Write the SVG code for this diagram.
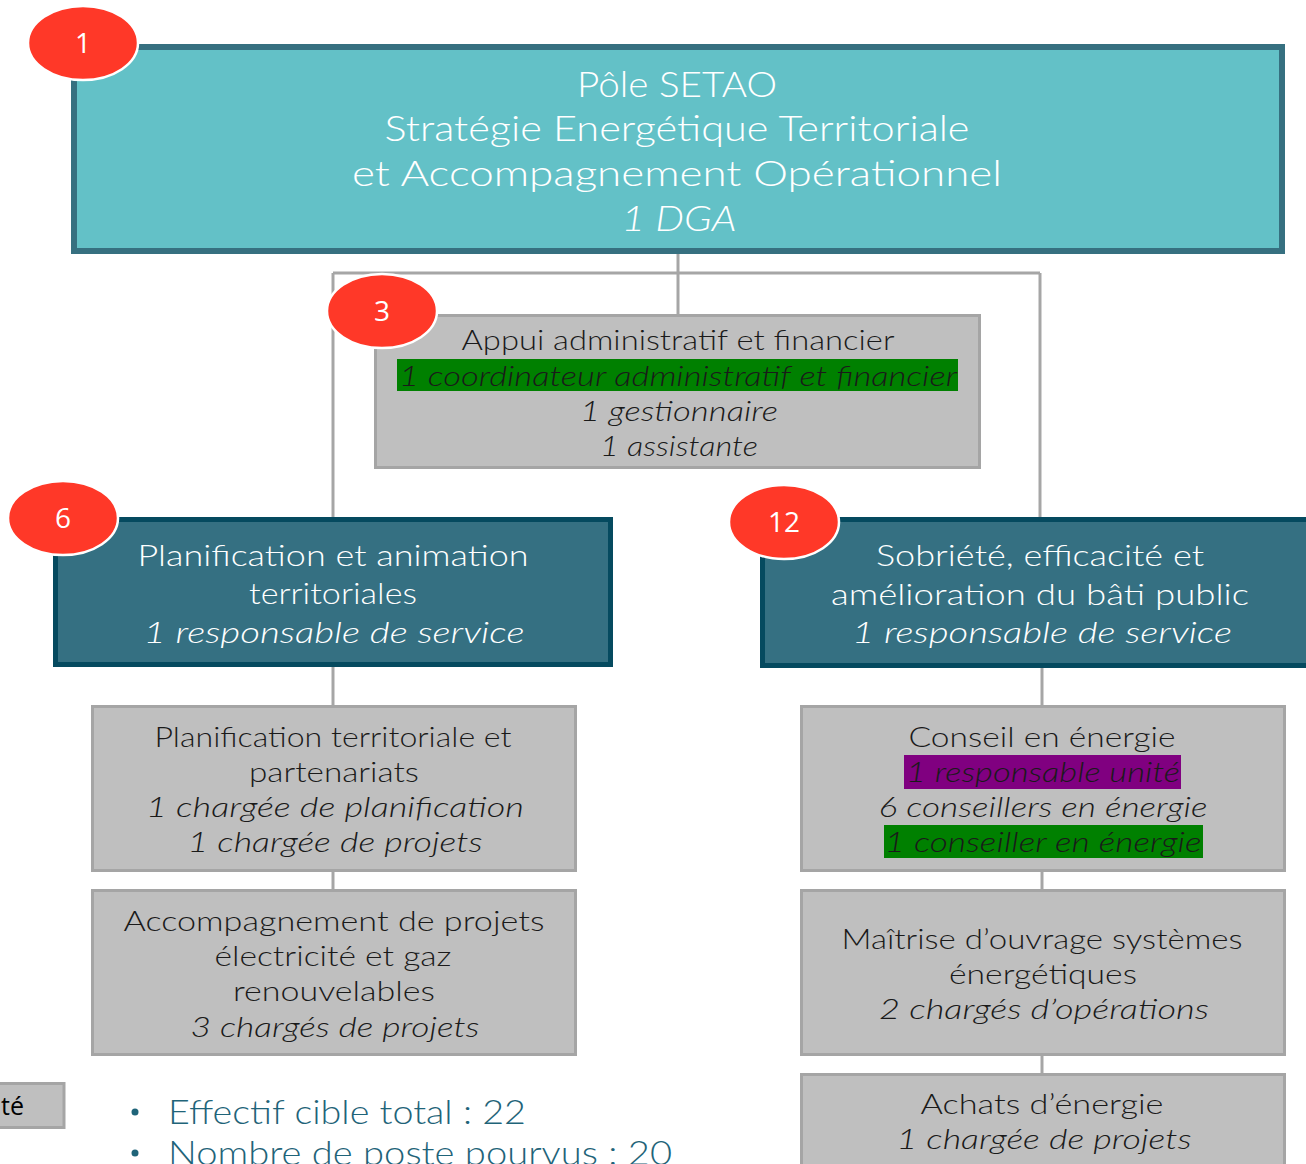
<svg xmlns="http://www.w3.org/2000/svg" width="1306" height="1164" viewBox="0 0 1306 1164">
  <style>
    .t { font-family: Lato, "Open Sans", "Liberation Sans", sans-serif; font-weight: 300; text-anchor: middle; }
    .i { font-style: italic; }
    .light { fill: #ffffff; }
    .dark { fill: #1a1a1a; }
    .pole { fill: #63c1c7; stroke: #367080; stroke-width: 6; }
    .svc { fill: #357082; stroke: #054a5f; stroke-width: 5; }
    .unit { fill: #bfbfbf; stroke: #a5a5a5; stroke-width: 3; }
    .badge { fill: #ff3828; stroke: #ffffff; stroke-width: 2.5; }
    .num { font-family: "Open Sans", "Noto Sans", "Liberation Sans", sans-serif; font-size: 28px; fill: #ffffff; text-anchor: middle; }
    .link { stroke: #a6a6a6; stroke-width: 3; fill: none; }
    .bullet { font-family: Lato, "Open Sans", "Liberation Sans", sans-serif; font-weight: 300; font-size: 34px; fill: #1f6479; }
  </style>

  <rect width="1306" height="1164" fill="#ffffff"/>

  <!-- connectors -->
  <g id="connectors">
    <path class="link" d="M678 254 V315"/>
    <path class="link" d="M333 273 H1040"/>
    <path class="link" d="M333 273 V519"/>
    <path class="link" d="M1040 273 V519"/>
    <path class="link" d="M333 667 V706"/>
    <path class="link" d="M333 872 V890"/>
    <path class="link" d="M1042 668 V706"/>
    <path class="link" d="M1042 872 V890"/>
    <path class="link" d="M1042 1056 V1074"/>
  </g>

  <!-- pole -->
  <g id="pole-setao">
    <rect class="pole" x="74" y="47" width="1208" height="204"/>
    <text class="t light" font-size="36" x="677" y="97" textLength="200" lengthAdjust="spacingAndGlyphs">Pôle SETAO</text>
    <text class="t light" font-size="36" x="677" y="141" textLength="585" lengthAdjust="spacingAndGlyphs">Stratégie Energétique Territoriale</text>
    <text class="t light" font-size="36" x="677" y="186" textLength="650" lengthAdjust="spacingAndGlyphs">et Accompagnement Opérationnel</text>
    <text class="t light i" font-size="36" x="679" y="231" textLength="115" lengthAdjust="spacingAndGlyphs">1 DGA</text>
  </g>

  <!-- administrative support -->
  <g id="appui-administratif">
    <rect class="unit" x="375.5" y="315.5" width="604" height="152"/>
    <rect x="397" y="359" width="561" height="32" fill="#008000"/>
    <text class="t dark" font-size="28" x="678" y="350" textLength="433" lengthAdjust="spacingAndGlyphs">Appui administratif et financier</text>
    <text class="t dark i" font-size="28" x="678" y="386" textLength="558" lengthAdjust="spacingAndGlyphs">1 coordinateur administratif et financier</text>
    <text class="t dark i" font-size="28" x="679" y="421" textLength="198" lengthAdjust="spacingAndGlyphs">1 gestionnaire</text>
    <text class="t dark i" font-size="28" x="679" y="456" textLength="158" lengthAdjust="spacingAndGlyphs">1 assistante</text>
  </g>

  <!-- planning service -->
  <g id="service-planification">
    <rect class="svc" x="55.5" y="519.5" width="555" height="145"/>
    <text class="t light" font-size="30" x="333" y="566" textLength="391" lengthAdjust="spacingAndGlyphs">Planification et animation</text>
    <text class="t light" font-size="30" x="333" y="604" textLength="168" lengthAdjust="spacingAndGlyphs">territoriales</text>
    <text class="t light i" font-size="30" x="334" y="643" textLength="381" lengthAdjust="spacingAndGlyphs">1 responsable de service</text>
  </g>

  <!-- sobriety service -->
  <g id="service-sobriete">
    <rect class="svc" x="762.5" y="519.5" width="560" height="146"/>
    <text class="t light" font-size="30" x="1040" y="566" textLength="328" lengthAdjust="spacingAndGlyphs">Sobriété, efficacité et</text>
    <text class="t light" font-size="30" x="1040" y="605" textLength="418" lengthAdjust="spacingAndGlyphs">amélioration du bâti public</text>
    <text class="t light i" font-size="30" x="1042" y="643" textLength="380" lengthAdjust="spacingAndGlyphs">1 responsable de service</text>
  </g>

  <!-- planning units -->
  <g id="unite-planification">
    <rect class="unit" x="92.5" y="706.5" width="483" height="164"/>
    <text class="t dark" font-size="28" x="333" y="747" textLength="357" lengthAdjust="spacingAndGlyphs">Planification territoriale et</text>
    <text class="t dark" font-size="28" x="334" y="782" textLength="170" lengthAdjust="spacingAndGlyphs">partenariats</text>
    <text class="t dark i" font-size="28" x="335" y="817" textLength="378" lengthAdjust="spacingAndGlyphs">1 chargée de planification</text>
    <text class="t dark i" font-size="28" x="335" y="852" textLength="295" lengthAdjust="spacingAndGlyphs">1 chargée de projets</text>
  </g>

  <g id="unite-accompagnement">
    <rect class="unit" x="92.5" y="890.5" width="483" height="164"/>
    <text class="t dark" font-size="28" x="334" y="931" textLength="421" lengthAdjust="spacingAndGlyphs">Accompagnement de projets</text>
    <text class="t dark" font-size="28" x="333" y="966" textLength="237" lengthAdjust="spacingAndGlyphs">électricité et gaz</text>
    <text class="t dark" font-size="28" x="334" y="1001" textLength="202" lengthAdjust="spacingAndGlyphs">renouvelables</text>
    <text class="t dark i" font-size="28" x="335" y="1037" textLength="289" lengthAdjust="spacingAndGlyphs">3 chargés de projets</text>
  </g>

  <!-- sobriety units -->
  <g id="unite-conseil">
    <rect class="unit" x="801.5" y="706.5" width="483" height="164"/>
    <rect x="904" y="755" width="277" height="34" fill="#800080"/>
    <rect x="884" y="825" width="319" height="33" fill="#008000"/>
    <text class="t dark" font-size="28" x="1042" y="747" textLength="267" lengthAdjust="spacingAndGlyphs">Conseil en énergie</text>
    <text class="t dark i" font-size="28" x="1043" y="782" textLength="274" lengthAdjust="spacingAndGlyphs">1 responsable unité</text>
    <text class="t dark i" font-size="28" x="1043" y="817" textLength="329" lengthAdjust="spacingAndGlyphs">6 conseillers en énergie</text>
    <text class="t dark i" font-size="28" x="1043" y="852" textLength="317" lengthAdjust="spacingAndGlyphs">1 conseiller en énergie</text>
  </g>

  <g id="unite-maitrise-ouvrage">
    <rect class="unit" x="801.5" y="890.5" width="483" height="164"/>
    <text class="t dark" font-size="28" x="1042" y="949" textLength="401" lengthAdjust="spacingAndGlyphs">Maîtrise d’ouvrage systèmes</text>
    <text class="t dark" font-size="28" x="1043" y="984" textLength="188" lengthAdjust="spacingAndGlyphs">énergétiques</text>
    <text class="t dark i" font-size="28" x="1044" y="1019" textLength="330" lengthAdjust="spacingAndGlyphs">2 chargés d’opérations</text>
  </g>

  <g id="unite-achats">
    <rect class="unit" x="801.5" y="1074.5" width="483" height="110"/>
    <text class="t dark" font-size="28" x="1042" y="1114" textLength="243" lengthAdjust="spacingAndGlyphs">Achats d’énergie</text>
    <text class="t dark i" font-size="28" x="1044" y="1149" textLength="295" lengthAdjust="spacingAndGlyphs">1 chargée de projets</text>
  </g>

  <!-- legend fragment -->
  <g id="legende">
    <rect class="unit" x="-10" y="1083.5" width="74" height="44"/>
    <text x="1" y="1115" font-family="'Open Sans', 'Noto Sans', 'Liberation Sans', sans-serif" font-size="25" font-weight="500" fill="#000000">té</text>
  </g>

  <!-- headcount summary -->
  <g id="effectifs">
    <circle cx="135" cy="1112" r="3.5" fill="#1f6479"/>
    <text class="bullet" x="168" y="1124" textLength="358" lengthAdjust="spacingAndGlyphs">Effectif cible total : 22</text>
    <circle cx="135" cy="1153" r="3.5" fill="#1f6479"/>
    <text class="bullet" x="168" y="1165" textLength="504" lengthAdjust="spacingAndGlyphs">Nombre de poste pourvus : 20</text>
  </g>

  <!-- headcount badges -->
  <g id="badge-1">
    <ellipse class="badge" cx="83" cy="43" rx="55" ry="37"/>
    <text class="num" x="83" y="53">1</text>
  </g>
  <g id="badge-3">
    <ellipse class="badge" cx="382" cy="311" rx="55" ry="37"/>
    <text class="num" x="382" y="321">3</text>
  </g>
  <g id="badge-6">
    <ellipse class="badge" cx="63" cy="518" rx="55" ry="37"/>
    <text class="num" x="63" y="528">6</text>
  </g>
  <g id="badge-12">
    <ellipse class="badge" cx="784" cy="522" rx="55" ry="37"/>
    <text class="num" x="784" y="532">12</text>
  </g>
</svg>
